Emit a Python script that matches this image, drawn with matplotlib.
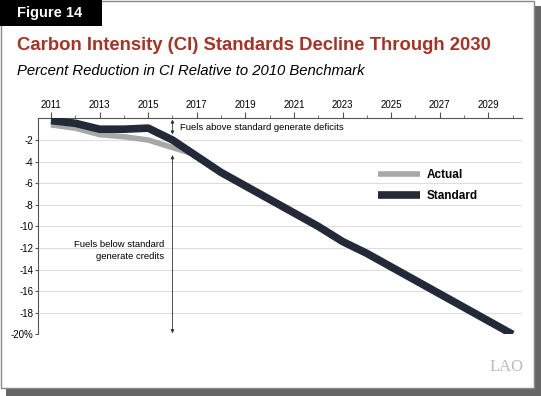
import matplotlib
matplotlib.use('Agg')
import matplotlib.pyplot as plt
from matplotlib.patches import Rectangle

plt.rcParams['font.family'] = ['Liberation Sans', 'DejaVu Sans']

years_actual = [2011, 2012, 2013, 2014, 2015, 2016, 2017]
actual = [-0.6, -0.9, -1.5, -1.7, -2.0, -2.7, -3.4]

years_standard = [2011, 2012, 2013, 2014, 2015, 2016, 2017, 2018, 2019, 2020,
                  2021, 2022, 2023, 2024, 2025, 2026, 2027, 2028, 2029, 2030]
standard = [-0.2, -0.45, -1.0, -1.0, -0.9, -2.0, -3.5, -5.0, -6.25, -7.5,
            -8.75, -10.0, -11.4, -12.5, -13.75, -15.0, -16.25, -17.5, -18.75, -20.0]

x_labels = [2011, 2013, 2015, 2017, 2019, 2021, 2023, 2025, 2027, 2029]
y_ticks = [-2, -4, -6, -8, -10, -12, -14, -16, -18, -20]
y_labels = ['-2', '-4', '-6', '-8', '-10', '-12', '-14', '-16', '-18', '-20%']

dark = '#222a38'
grey = '#a8a8a8'

fig = plt.figure(figsize=(5.41, 3.96), dpi=100)

# frame with shadow
fig.patches.append(Rectangle((6 / 541, 0), 535 / 541, 390 / 396, transform=fig.transFigure,
                             facecolor='#666666', edgecolor='none', zorder=-3))
fig.patches.append(Rectangle((1 / 541, 8 / 396), 533 / 541, 387 / 396, transform=fig.transFigure,
                             facecolor='white', edgecolor='#888888', linewidth=1, zorder=-2))
# figure label box
fig.patches.append(Rectangle((0, 370 / 396), 102 / 541, 26 / 396, transform=fig.transFigure,
                             facecolor='black', edgecolor='none', zorder=-1))
fig.text(17 / 541, 383 / 396, 'Figure 14', color='white', fontsize=10.5, fontweight='bold',
         va='center', ha='left', zorder=3)
fig.text(17 / 541, 350 / 396, 'Carbon Intensity (CI) Standards Decline Through 2030',
         color='#a83224', fontsize=13.3, fontweight='bold', va='center', ha='left')
fig.text(17 / 541, 325 / 396, 'Percent Reduction in CI Relative to 2010 Benchmark',
         color='black', fontsize=10.7, style='italic', va='center', ha='left')
fig.text(524 / 541, 29 / 396, 'LAO', color='#bbbbbb', fontsize=12,
         family='Liberation Serif', va='center', ha='right')

ax = fig.add_axes([37.6 / 541, 61.6 / 396, 484.8 / 541, 216 / 396])
ax.set_xlim(2010.45, 2030.4)
ax.set_ylim(-20, 0)

ax.plot(years_actual, actual, color=grey, linewidth=4, solid_capstyle='butt',
        solid_joinstyle='round', label='Actual', zorder=3)
ax.plot(years_standard, standard, color=dark, linewidth=5.5, solid_capstyle='butt',
        solid_joinstyle='round', label='Standard', zorder=4)

ax.set_yticks(y_ticks)
ax.set_yticklabels(y_labels, fontsize=7)
ax.set_xticks(x_labels)
ax.set_xticklabels([str(y) for y in x_labels], fontsize=7)
ax.set_xticks(range(2011, 2031), minor=True)
ax.xaxis.tick_top()
ax.tick_params(axis='x', which='major', length=4, color='#555555', pad=2)
ax.tick_params(axis='x', which='minor', length=2.5, color='#555555')
ax.tick_params(axis='y', length=2, color='#555555', pad=1)
ax.grid(axis='y', color='#dddddd', linewidth=0.8)
ax.set_axisbelow(True)
for s in ['right', 'bottom']:
    ax.spines[s].set_visible(False)
ax.spines['top'].set_color('#555555')
ax.spines['left'].set_color('#555555')
ax.spines['top'].set_linewidth(0.8)
ax.spines['left'].set_linewidth(0.8)

# annotations
ax.annotate('', xy=(2016, -0.1), xytext=(2016, -1.5),
            arrowprops=dict(arrowstyle='<|-|>', color='#333333', lw=0.6,
                            mutation_scale=5, shrinkA=0, shrinkB=0))
ax.text(2016.3, -0.85, 'Fuels above standard generate deficits', fontsize=6.8,
        va='center', ha='left')
ax.annotate('', xy=(2016, -3.4), xytext=(2016, -19.9),
            arrowprops=dict(arrowstyle='<|-|>', color='#333333', lw=0.6,
                            mutation_scale=5, shrinkA=0, shrinkB=0))
ax.text(2015.65, -12.2, 'Fuels below standard\ngenerate credits', fontsize=6.8,
        va='center', ha='right', multialignment='right', linespacing=1.4)

leg = ax.legend(loc='upper left', bbox_to_anchor=(0.68, 0.815), frameon=False,
                handlelength=3.6, handletextpad=0.5, labelspacing=0.8,
                prop={'size': 8.5, 'weight': 'bold'})

fig.savefig('out.png', dpi=100)
